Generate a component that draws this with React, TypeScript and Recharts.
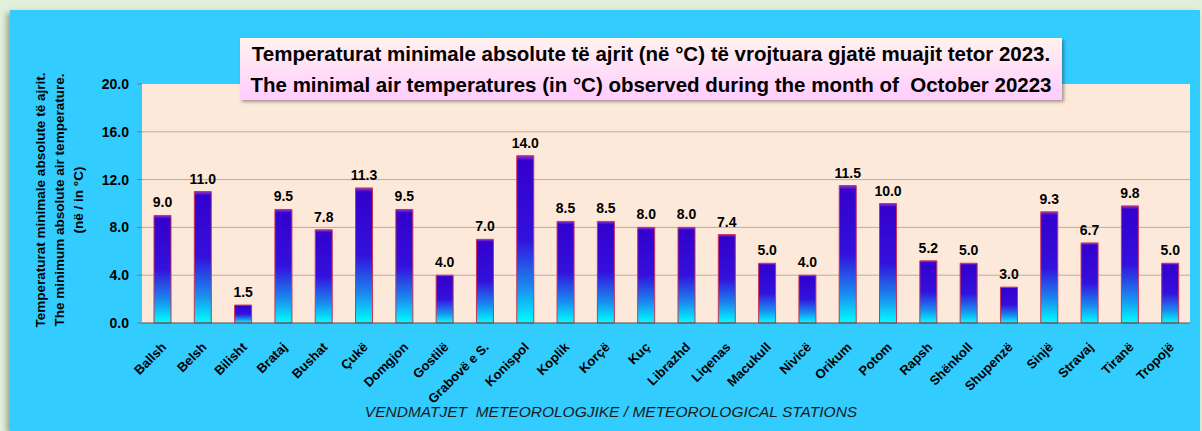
import { BarChart, Bar, XAxis, YAxis, CartesianGrid, LabelList } from 'recharts'

const stations = [
  'Ballsh', 'Belsh', 'Bilisht', 'Brataj', 'Bushat', 'Çukë', 'Domgjon', 'Gostilë', 'Grabovë e S.',
  'Konispol', 'Koplik', 'Korçë', 'Kuç', 'Librazhd', 'Liqenas', 'Macukull', 'Nivicë', 'Orikum',
  'Potom', 'Rapsh', 'Shënkoll', 'Shupenzë', 'Sinjë', 'Stravaj', 'Tiranë', 'Tropojë',
]
const minTemps = [
  9.0, 11.0, 1.5, 9.5, 7.8, 11.3, 9.5, 4.0, 7.0, 14.0, 8.5, 8.5, 8.0, 8.0, 7.4, 5.0, 4.0, 11.5,
  10.0, 5.2, 5.0, 3.0, 9.3, 6.7, 9.8, 5.0,
]
const yTicks = [0, 4, 8, 12, 16, 20]

const data = stations.map((name, i) => ({ name, t: minTemps[i] }))

const font = '"Liberation Sans", Arial, sans-serif'

// eslint-disable-next-line @typescript-eslint/no-explicit-any
const StationTick = ({ x, y, payload }: any) => (
  <g transform={`translate(${x + 5},${y + 17}) rotate(-45)`}>
    <text textAnchor="end" fontSize={13} fontWeight={700} fontFamily={font} fill="#000">
      {payload.value}
    </text>
  </g>
)

export default function App() {
  return (
    <div style={{ position: 'absolute', left: 0, top: 0, width: 1202, height: 431, background: '#e2efda', overflow: 'hidden' }}>
      <div style={{ position: 'absolute', left: 10, top: 10, width: 1190, height: 421, background: '#33ccff', boxShadow: '-3px 3px 6px rgba(0,0,0,0.35)' }} />
      <div style={{ position: 'absolute', left: 0, top: 0 }}>
        <BarChart width={1202} height={431} data={data} margin={{ top: 84, right: 12, left: 82, bottom: 28 }}>
          <defs>
            <linearGradient id="barFill" x1="0" y1="0" x2="0" y2="1">
              <stop offset="0" stopColor="#9933cc" />
              <stop offset="0.03" stopColor="#3300cc" />
              <stop offset="0.5" stopColor="#3311dd" />
              <stop offset="0.78" stopColor="#1a88ee" />
              <stop offset="1" stopColor="#00ffff" />
            </linearGradient>
          </defs>
          <CartesianGrid vertical={false} fill="#fde9d9" stroke="#bfaaa2" horizontalValues={[4, 8, 12, 16]} />
          <XAxis
            dataKey="name"
            interval={0}
            tick={<StationTick />}
            tickLine={false}
            axisLine={{ stroke: '#555' }}
            height={80}
          />
          <YAxis
            domain={[0, 20]}
            ticks={yTicks}
            tickFormatter={(v: number) => v.toFixed(1)}
            tick={{ fontSize: 14, fontWeight: 700, fill: '#000', fontFamily: font }}
            tickLine={{ stroke: '#777' }}
            tickSize={5}
            tickMargin={8}
            axisLine={false}
            width={60}
          />
          <Bar dataKey="t" fill="url(#barFill)" stroke="#cc3355" strokeWidth={1} barSize={17} isAnimationActive={false}>
            <LabelList
              dataKey="t"
              position="top"
              offset={8}
              formatter={(v: any) => Number(v).toFixed(1)}
              style={{ fontSize: 14, fontWeight: 700, fill: '#000', fontFamily: font }}
            />
          </Bar>
        </BarChart>
      </div>
      <div
        style={{
          position: 'absolute', left: 240, top: 38, width: 822, height: 62,
          background: 'linear-gradient(#fff2ee, #ffccff)', boxShadow: '2px 2px 3px rgba(0,0,0,0.35)',
          fontFamily: font, fontWeight: 700, fontSize: 20.5, lineHeight: '31px', textAlign: 'center', color: '#000',
          whiteSpace: 'nowrap',
        }}
      >
        <div>Temperaturat minimale absolute të ajrit (në °C) të vrojtuara gjatë muajit tetor 2023.</div>
        <div>The minimal air temperatures (in °C) observed during the month of&nbsp; October 20223</div>
      </div>
      <div
        style={{
          position: 'absolute', left: 61 - 130, top: 200 - 30, width: 260, height: 60,
          transform: 'rotate(-90deg)', fontFamily: font, fontWeight: 700, fontSize: 13.5,
          lineHeight: '19px', textAlign: 'center', color: '#000', whiteSpace: 'nowrap',
        }}
      >
        <div>Temperaturat minimale absolute të ajrit.</div>
        <div>The minimum absolute air temperature.</div>
        <div>(në / in °C)</div>
      </div>
      <div
        style={{
          position: 'absolute', left: 300, top: 403, width: 622, textAlign: 'center',
          fontFamily: font, fontStyle: 'italic', fontSize: 15.5, color: '#1a1a1a', whiteSpace: 'pre',
        }}
      >
        VENDMATJET  METEOROLOGJIKE / METEOROLOGICAL STATIONS
      </div>
    </div>
  )
}
